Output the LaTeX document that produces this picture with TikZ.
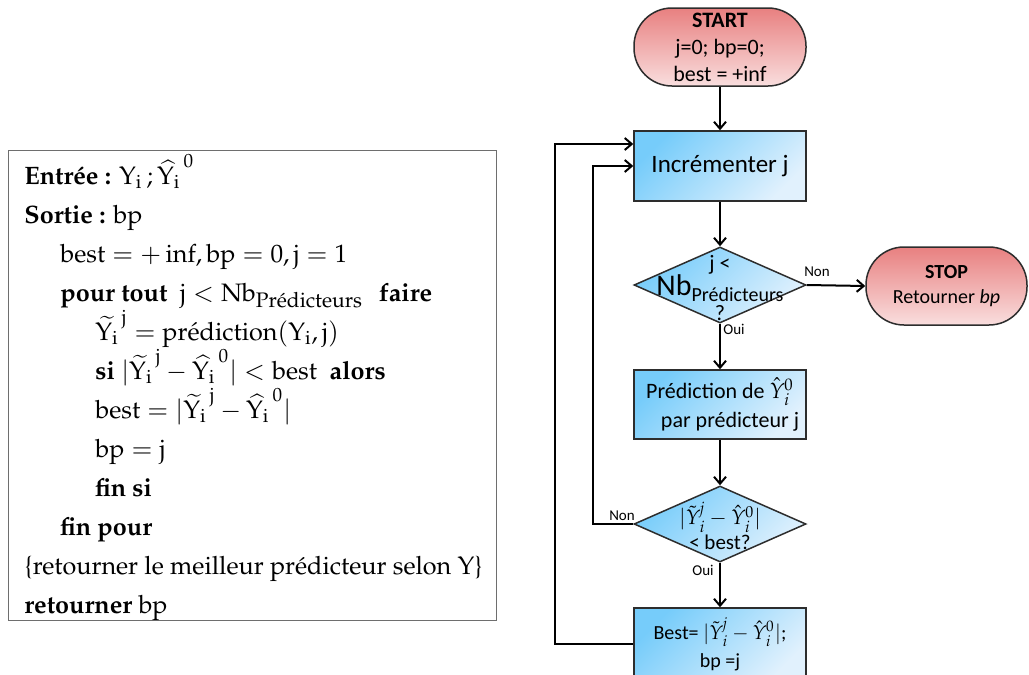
\documentclass[tikz,border=0pt]{standalone}
\usepackage[no-math]{fontspec}
\newfontfamily\flowfont{Carlito}
\usepackage[T1]{fontenc}
\usepackage{mathpazo}
\usepackage{amsmath}
\usepackage{xcolor}
\definecolor{flowblueTop}{RGB}{118,204,250}
\definecolor{flowblueBottom}{RGB}{225,241,253}
\definecolor{flowredTop}{RGB}{232,128,128}
\definecolor{flowredBottom}{RGB}{249,222,222}
\definecolor{flowline}{RGB}{45,45,45}
\definecolor{algoline}{RGB}{110,110,110}
\usetikzlibrary{arrows.meta,positioning,shapes.geometric}
\newcommand{\fhat}{\ensuremath{\hat{\mathit{Y}}_{\mathit{i}}^{0}}}
\newcommand{\ftilde}{\ensuremath{\tilde{\mathit{Y}}_{\mathit{i}}^{\mathit{j}}}}
\newcommand{\uY}{\mathrm{Y}}
\newcommand{\uYi}{\mathrm{Y}_{\mathrm{i}}}
\tikzset{
  flow box/.style={draw=flowline, line width=0.75pt, top color=flowblueTop, bottom color=flowblueBottom, shading angle=45, minimum width=86pt, inner sep=0pt, align=center},
  flow term/.style={draw=flowline, line width=0.75pt, rounded corners=19pt, top color=flowredTop, bottom color=flowredBottom, minimum height=39pt, inner sep=0pt, align=center},
  flow diamond/.style={draw=flowline, line width=0.75pt, diamond, top color=flowblueTop, bottom color=flowblueBottom, shading angle=45, minimum width=86pt, minimum height=38pt, inner sep=0pt},
  flow text/.style={inner sep=0pt, align=center},
  flow arrow/.style={-{Straight Barb[length=3.5pt,width=6pt]}, line width=1pt},
  flow label/.style={font=\flowfont\fontsize{7.5}{9}\selectfont, inner sep=1pt},
}

\begin{document}
\begin{tikzpicture}[x=0.5pt, y=-0.5pt]
  \useasboundingbox (0,0) rectangle (1029,675);
  % algorithme
  \node[draw=algoline, line width=0.6pt, minimum width=244pt, minimum height=235pt, anchor=north west, inner sep=0pt] (algo) at (8,150) {};
  \node[anchor=north west, align=left, inner sep=0pt, font=\fontsize{12.6}{19.5}\selectfont] (algotext) at (24,154) {%
    \textbf{Entr\'ee :} $\uYi\,;\widehat{\uYi}^{\,0}$\\
    \textbf{Sortie :} $\mathrm{bp}$\\
    \hspace*{18pt}$\mathrm{best} = +\inf, \mathrm{bp} = 0, \mathrm{j} = 1$\\
    \hspace*{18pt}\textbf{pour tout}\ \ $\mathrm{j} < \mathrm{Nb}_{\text{\fontsize{10.5}{10}\selectfont Pr\'edicteurs}}$\hspace{8pt}\textbf{faire}\\
    \hspace*{35.5pt}$\widetilde{\uYi}^{\,\mathrm{j}} = \mathrm{pr\acute{e}diction}(\uYi, \mathrm{j})$\\
    \hspace*{35.5pt}\textbf{si} $|\widetilde{\uYi}^{\,\mathrm{j}} - \widehat{\uYi}^{\,0}| < \mathrm{best}$\ \ \textbf{alors}\\
    \hspace*{35.5pt}$\mathrm{best} = |\widetilde{\uYi}^{\,\mathrm{j}} - \widehat{\uYi}^{\,0}|$\\
    \hspace*{35.5pt}$\mathrm{bp} = \mathrm{j}$\\
    \hspace*{35.5pt}\textbf{fin si}\\
    \hspace*{18pt}\textbf{fin pour}\\
    \{retourner le meilleur pr\'edicteur selon $\uY$\}\\
    \textbf{retourner} $\mathrm{bp}$};

  % organigramme
  \node[flow term, minimum width=86pt, font=\flowfont\fontsize{11}{13.5}\selectfont] (start) at (720,47) {\textbf{START}\\j=0; bp=0;\\best = +inf};
  \node[flow box, minimum height=35pt, font=\flowfont\fontsize{12.5}{15}\selectfont] (incr) at (720,166) {Incrémenter j};
  \node[flow diamond] (testj) at (720,285) {};
  \node[flow text, font=\flowfont\fontsize{11}{12.5}\selectfont] (testjtext) at (720,288) {j <\\{\fontsize{15}{14}\selectfont Nb}\raisebox{-3pt}{\fontsize{10}{10}\selectfont Prédicteurs}\\?};
  \node[flow term, minimum width=80.5pt, font=\flowfont\fontsize{10}{12.5}\selectfont] (stop) at (946.5,286) {\textbf{STOP}\\Retourner \textit{bp}};
  \node[flow box, minimum height=34.5pt, font=\flowfont\fontsize{11}{14.5}\selectfont] (pred) at (720,404.5) {Prédiction de \fhat\\\hspace*{10pt}par prédicteur j};
  \node[flow diamond] (testb) at (720,524) {};
  \node[flow text, font=\flowfont\fontsize{10.5}{12.5}\selectfont] (testbtext) at (720,526) {$|\ftilde - \fhat|$\\< best?};
  \node[flow box, minimum height=36pt, font=\flowfont\fontsize{10}{14}\selectfont] (upd) at (720,644) {Best= $|\ftilde - \fhat|$;\\bp =j};

  \coordinate (backB) at (593,524);
  \coordinate (backA) at (555,644);
  \draw[flow arrow] (start) -- (incr);
  \draw[flow arrow] (incr) -- (testj);
  \draw[flow arrow] (testj.east) -- (stop.west);
  \draw[flow arrow] (testj.south) -- (pred.north);
  \draw[flow arrow] (pred) -- (testb);
  \draw[flow arrow] (testb.south) -- (upd.north);
  \draw[flow arrow] (testb.west) -- (backB) |- (incr.west);
  \draw[flow arrow] (upd.west) -- (backA) |- ([yshift=11pt]incr.west);

  \node[flow label] (nonj) at (817,272) {Non};
  \node[flow label] (ouij) at (734,329) {Oui};
  \node[flow label] (nonb) at (622,516) {Non};
  \node[flow label] (ouib) at (703,570) {Oui};
\end{tikzpicture}
\end{document}
